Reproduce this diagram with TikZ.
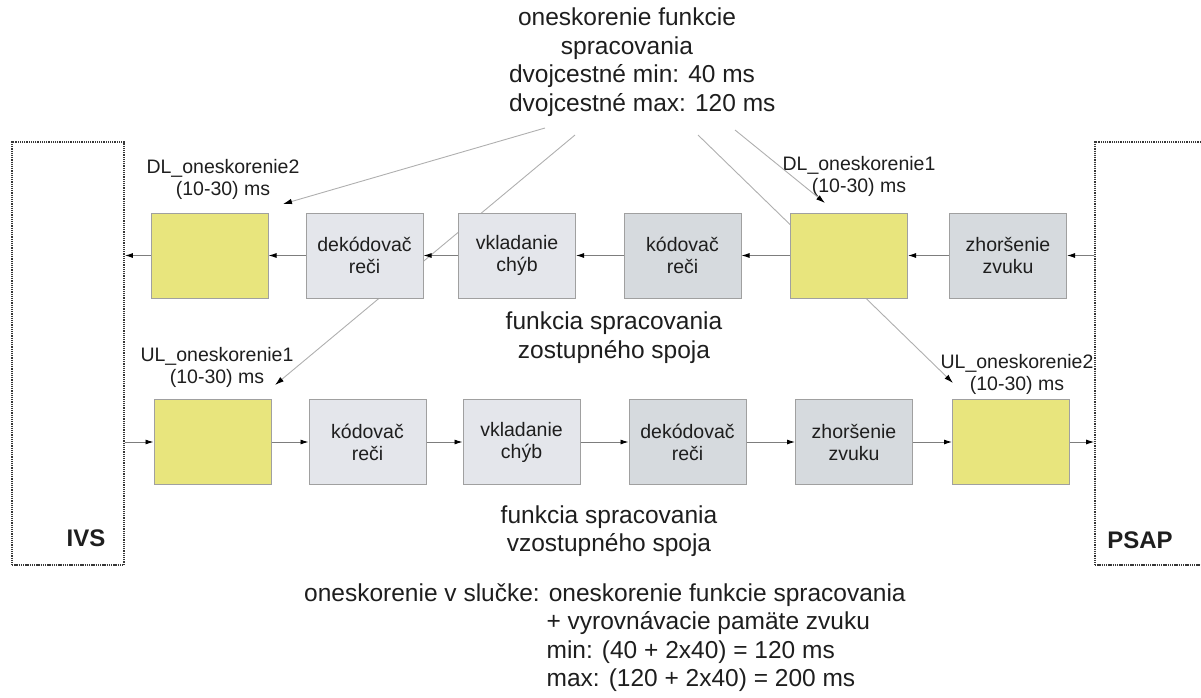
\documentclass[tikz,border=0pt]{standalone}
\usepackage{fontspec}
\setmainfont{Liberation Sans}
\usetikzlibrary{arrows.meta}
\definecolor{dly}{RGB}{232,229,125}
\definecolor{lgt}{RGB}{228,230,235}
\definecolor{drk}{RGB}{214,218,222}
\definecolor{boxline}{RGB}{160,160,160}
\definecolor{txt}{RGB}{30,30,30}
\definecolor{dotc}{RGB}{55,55,55}
\definecolor{flowc}{RGB}{125,125,125}
\definecolor{ptrc}{RGB}{175,175,175}
\begin{document}
\begin{tikzpicture}[x=1pt,y=-1pt,
  small/.style={font=\fontsize{19.5}{22}\selectfont},
  big/.style={font=\fontsize{24.5}{28.5}\selectfont},
  blk/.style={draw=boxline, line width=1pt, minimum width=117pt, minimum height=85pt,
              inner sep=0pt, align=center, small, text=txt},
  delaybox/.style={blk, fill=dly},
  lightbox/.style={blk, fill=lgt},
  darkbox/.style={blk, fill=drk},
  endpoint/.style={draw=dotc, line width=1.8pt, dash pattern=on 1.3pt off 0.9pt,
                   minimum width=112pt, minimum height=423pt, inner sep=0pt},
  flow/.style={draw=flowc, line width=0.9pt, -{Latex[length=8pt,width=5pt,color=black]}},
  pointer/.style={draw=ptrc, line width=0.9pt, -{Latex[length=9pt,width=5.5pt,color=black]}},
  lbl/.style={small, align=center, text=txt, inner sep=0pt},
  note/.style={big, align=center, text=txt, inner sep=0pt},
]
\useasboundingbox (0,0) rectangle (1201,698);
\clip (0,0) rectangle (1201,698);

% terminal equipment on both ends
\node[endpoint] (ivs)  at (68,353.5) {};
\node[endpoint] (psap) at (1151,353.5) {};
\node[font=\fontsize{24}{28}\selectfont\bfseries, text=txt] (ivslbl)  at (86,538) {IVS};
\node[font=\fontsize{24}{28}\selectfont\bfseries, text=txt] (psaplbl) at (1140,540) {PSAP};

% texts
\node[note] (delay) at (627,62) {oneskorenie funkcie\\spracovania\\
  \makebox[236pt][l]{dvojcestné min: 40 ms}\\
  \makebox[236pt][l]{dvojcestné max: 120 ms}};
\node[note] (dlname) at (614,337.5) {funkcia spracovania\\zostupného spoja};
\node[note] (ulname) at (609,531) {funkcia spracovania\\vzostupného spoja};
\node[big, align=left, text=txt, inner sep=0pt, anchor=north west] (loop) at (304,583)
  {oneskorenie v slučke: oneskorenie funkcie spracovania\\
   \hphantom{oneskorenie v slučke:\ }+ vyrovnávacie pamäte zvuku\\
   \hphantom{oneskorenie v slučke:\ }min: (40 + 2x40) = 120 ms\\
   \hphantom{oneskorenie v slučke:\ }max: (120 + 2x40) = 200 ms};

\node[lbl] (dl2lbl) at (223,179)   {DL\_oneskorenie2\\(10-30) ms};
\node[lbl] (dl1lbl) at (859,176.5) {DL\_oneskorenie1\\(10-30) ms};
\node[lbl] (ul1lbl) at (217,367.5) {UL\_oneskorenie1\\(10-30) ms};
\node[lbl] (ul2lbl) at (1017,374)  {UL\_oneskorenie2\\(10-30) ms};

% delay pointers from the processing-delay note
\coordinate (p1s) at (545,128); \coordinate (p1e) at (283,204);
\coordinate (p2s) at (575,135); \coordinate (p2e) at (275,385);
\coordinate (p3s) at (698,135); \coordinate (p3e) at (953,383);
\coordinate (p4s) at (735,130); \coordinate (p4e) at (825,203);
\draw[pointer] (p1s) -- (p1e);
\draw[pointer] (p2s) -- (p2e);
\draw[pointer] (p3s) -- (p3e);
\draw[pointer] (p4s) -- (p4e);

% downlink chain
\node[delaybox] (dl2)   at (209.5,255.5) {};
\node[lightbox] (decDL) at (364.5,255.5) {dekódovač\\reči};
\node[lightbox] (insDL) at (517,255.5)   {vkladanie\\chýb};
\node[darkbox]  (encDL) at (682.5,255.5) {kódovač\\reči};
\node[delaybox] (dl1)   at (849,255.5)   {};
\node[darkbox]  (degDL) at (1008,255.5)  {zhoršenie\\zvuku};

% uplink chain
\node[delaybox] (ul1)   at (212.5,442) {};
\node[lightbox] (encUL) at (367.5,442) {kódovač\\reči};
\node[lightbox] (insUL) at (521.5,442) {vkladanie\\chýb};
\node[darkbox]  (decUL) at (687.5,442) {dekódovač\\reči};
\node[darkbox]  (degUL) at (854,442)   {zhoršenie\\zvuku};
\node[delaybox] (ul2)   at (1011,442)  {};

% downlink flow
\draw[flow] (psap.west |- degDL.east) -- (degDL.east);
\draw[flow] (degDL.west) -- (dl1.east);
\draw[flow] (dl1.west) -- (encDL.east);
\draw[flow] (encDL.west) -- (insDL.east);
\draw[flow] (insDL.west) -- (decDL.east);
\draw[flow] (decDL.west) -- (dl2.east);
\draw[flow] (dl2.west) -- (dl2.west -| ivs.east);

% uplink flow
\draw[flow] (ivs.east |- ul1.west) -- (ul1.west);
\draw[flow] (ul1.east) -- (encUL.west);
\draw[flow] (encUL.east) -- (insUL.west);
\draw[flow] (insUL.east) -- (decUL.west);
\draw[flow] (decUL.east) -- (degUL.west);
\draw[flow] (degUL.east) -- (ul2.west);
\draw[flow] (ul2.east) -- (ul2.east -| psap.west);
\end{tikzpicture}
\end{document}
